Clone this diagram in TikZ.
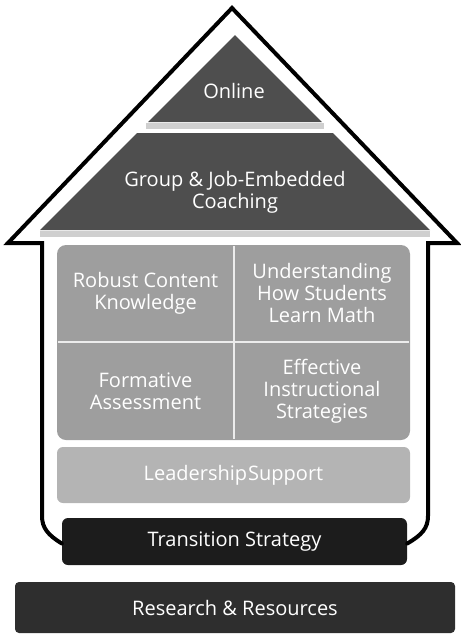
\documentclass[tikz,border=0pt]{standalone}
\usepackage{fontspec}
\setmainfont{Open Sans}
\begin{document}
\begin{tikzpicture}[x=1pt,y=-1pt,
  label/.style={text=white,font=\fontsize{20}{22}\selectfont,align=center,inner sep=0pt},
  bar/.style={rounded corners=6pt,inner sep=0pt,text=white,font=\fontsize{20}{22}\selectfont},
  divider/.style={white!85!gray,line width=1.8pt},
  outline/.style={black,line width=4pt,line join=miter,line cap=round}
]
\useasboundingbox (0,0) rectangle (461,638);
\definecolor{roofgray}{HTML}{4E4E4E}
\definecolor{cellgray}{HTML}{9E9E9E}
\definecolor{leadgray}{HTML}{B4B4B4}
\definecolor{bandgray}{HTML}{CFCFCF}
\definecolor{darkbar}{HTML}{1C1C1C}
\definecolor{basebar}{HTML}{2E2E2E}

% roof layers
\fill[roofgray] (235,35) -- (322,122) -- (148,122) -- cycle;
\fill[bandgray] (146,123) rectangle (324,129);
\fill[roofgray] (137,133) -- (333,133) -- (430,230) -- (40,230) -- cycle;
\fill[bandgray] (40,231) rectangle (430,237);
\node[label] (online) at (234,91) {Online};
\node[label] (coach) at (235,192) {Group \& Job-Embedded\\Coaching};

% four core areas
\fill[cellgray,rounded corners=9pt] (57,245) rectangle (410,440);
\draw[divider] (234,246) -- (234,439);
\draw[divider] (58,342) -- (409,342);
\node[label] (rck) at (145.5,293) {Robust Content\\Knowledge};
\node[label] (uhs) at (322,293) {Understanding\\How Students\\Learn Math};
\node[label] (fa) at (145.5,391) {Formative\\Assessment};
\node[label] (eis) at (322,391) {Effective\\Instructional\\Strategies};

% foundation bars
\node[bar,fill=leadgray,minimum width=353pt,minimum height=56pt] (lead) at (233.5,475) {Leadership\hspace{1pt}Support};
\node[bar,fill=darkbar,minimum width=345pt,minimum height=47pt] (trans) at (234.5,541.5) {Transition Strategy};
\node[bar,fill=basebar,rounded corners=4pt,minimum width=440pt,minimum height=51pt] (res) at (235,607.5) {Research \& Resources};

% house outline
\coordinate (lfoot) at ([yshift=-2pt]trans.west);
\coordinate (rfoot) at ([yshift=-2pt]trans.east);
\draw[outline] (lfoot) .. controls (48,535) and (42,528) .. (42,516)
  -- (42,243) -- (8,243) -- (232,8) -- (457,243) -- (428,243) -- (428,516)
  .. controls (428,528) and (422,535) .. (rfoot);
\end{tikzpicture}
\end{document}
